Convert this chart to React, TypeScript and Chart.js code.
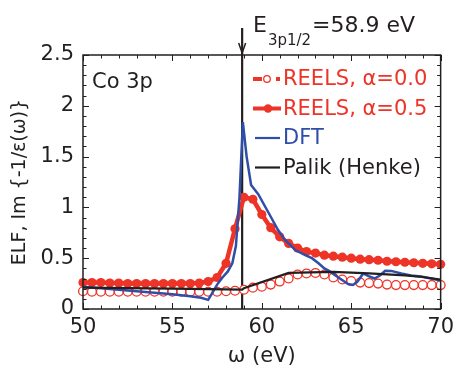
import { useEffect, useRef } from "react";
import { Chart, registerables } from "chart.js";

Chart.register(...registerables);

// Photon energy grid of the REELS-derived spectra (eV)
const reelsEnergy = [
  50, 50.5, 51, 51.5, 52, 52.5, 53, 53.5, 54, 54.5, 55, 55.5, 56, 56.5, 57, 57.5, 58, 58.5, 59, 59.5,
  60, 60.5, 61, 61.5, 62, 62.5, 63, 63.5, 64, 64.5, 65, 65.5, 66, 66.5, 67, 67.5, 68, 68.5, 69, 69.5, 70,
];

// REELS ELF, alpha = 0.0 (open circles)
const reelsAlpha00 = [
  0.175, 0.17, 0.17, 0.17, 0.17, 0.17, 0.17, 0.17, 0.17, 0.17, 0.17, 0.17, 0.17, 0.17, 0.17, 0.17,
  0.175, 0.18, 0.19, 0.21, 0.22, 0.24, 0.27, 0.3, 0.34, 0.35, 0.355, 0.34, 0.31, 0.29, 0.275, 0.26,
  0.255, 0.25, 0.24, 0.235, 0.235, 0.235, 0.235, 0.235, 0.235,
];

// REELS ELF, alpha = 0.5 (filled circles)
const reelsAlpha05 = [
  0.26, 0.26, 0.26, 0.255, 0.255, 0.25, 0.25, 0.25, 0.25, 0.25, 0.25, 0.25, 0.25, 0.255, 0.27, 0.31,
  0.45, 0.79, 1.1, 1.08, 0.93, 0.8, 0.71, 0.645, 0.6, 0.565, 0.55, 0.53, 0.52, 0.51, 0.5, 0.49, 0.485,
  0.48, 0.47, 0.465, 0.46, 0.455, 0.45, 0.445, 0.44,
];

// DFT loss function
const dftEnergy = [
  50, 51, 52, 53, 54, 55, 56, 56.6, 57.0, 57.2, 57.5, 57.8, 58.1, 58.35, 58.55, 58.75, 58.94, 59.15,
  59.4, 59.8, 60.4, 60.9, 61.3, 61.87, 62.43, 62.8, 63.17, 63.5, 63.8, 64.28, 64.83, 65.1, 65.35,
  65.67, 65.94, 66.3, 66.6, 66.9, 67.24, 67.8, 68.35, 68.9, 69.46, 70,
];
const dftElf = [
  0.22, 0.205, 0.19, 0.175, 0.16, 0.145, 0.125, 0.11, 0.09, 0.15, 0.24, 0.31, 0.37, 0.45, 0.62, 1.1,
  1.84, 1.5, 1.22, 1.13, 0.94, 0.78, 0.68, 0.58, 0.53, 0.5, 0.45, 0.4, 0.37, 0.31, 0.246, 0.236, 0.27,
  0.35, 0.325, 0.3, 0.33, 0.377, 0.375, 0.35, 0.33, 0.32, 0.3, 0.28,
];

// Optical data (Palik / Henke tables)
const palikEnergy = [50, 55, 58.9, 59.0, 61.5, 64, 66, 68, 69, 70];
const palikElf = [0.21, 0.2, 0.19, 0.205, 0.355, 0.365, 0.35, 0.33, 0.315, 0.29];

const seriesLabels = ["REELS, α=0.0", "REELS, α=0.5", "DFT", "Palik (Henke)"];
const xTickValues = [50, 55, 60, 65, 70];
const yTickValues = [0, 0.5, 1, 1.5, 2, 2.5];
const EDGE_ENERGY = 58.9;

const FONT = '"DejaVu Sans", "Liberation Sans", sans-serif';
const INK = "#231f20";
const RED = "#ee3327";
const BLUE = "#2f4ea8";

const pairs = (xs: number[], ys: number[]) => xs.map((x, i) => ({ x, y: ys[i] }));

const decorations = {
  id: "decorations",
  beforeDatasetsDraw(chart: any) {
    const { ctx, chartArea, scales } = chart;
    const px = scales.x.getPixelForValue(EDGE_ENERGY);
    ctx.save();
    ctx.strokeStyle = INK;
    ctx.lineWidth = 2.2;
    ctx.beginPath();
    ctx.moveTo(px, 28);
    ctx.lineTo(px, chartArea.bottom);
    ctx.stroke();
    ctx.lineWidth = 1.5;
    ctx.beginPath();
    ctx.moveTo(px - 3.5, 43);
    ctx.lineTo(px, 53);
    ctx.lineTo(px + 3.5, 43);
    ctx.stroke();
    ctx.restore();
  },
  afterDraw(chart: any) {
    const { ctx, chartArea, scales } = chart;
    const { left, right, top, bottom } = chartArea;
    const xs = scales.x;
    const ys = scales.y;
    ctx.save();

    // frame
    ctx.strokeStyle = INK;
    ctx.lineWidth = 1.5;
    ctx.strokeRect(left, top, right - left, bottom - top);

    // inward ticks on all four sides
    ctx.lineWidth = 1;
    ctx.beginPath();
    for (let v = 50; v <= 70; v += 1) {
      const p = Math.round(xs.getPixelForValue(v)) + 0.5;
      const len = v % 5 === 0 ? 6 : 3.5;
      ctx.moveTo(p, bottom);
      ctx.lineTo(p, bottom - len);
      ctx.moveTo(p, top);
      ctx.lineTo(p, top + len);
    }
    for (let k = 0; k <= 25; k++) {
      const p = Math.round(ys.getPixelForValue(k / 10)) + 0.5;
      const len = k % 5 === 0 ? 6 : 3.5;
      ctx.moveTo(left, p);
      ctx.lineTo(left + len, p);
      ctx.moveTo(right, p);
      ctx.lineTo(right - len, p);
    }
    ctx.stroke();

    // axis titles
    ctx.fillStyle = INK;
    ctx.font = `21px ${FONT}`;
    ctx.textAlign = "center";
    ctx.textBaseline = "middle";
    ctx.fillText("ω (eV)", (left + right) / 2, 357);
    ctx.save();
    ctx.translate(20, (top + bottom) / 2);
    ctx.rotate(-Math.PI / 2);
    ctx.font = `19px ${FONT}`;
    ctx.fillText("ELF, Im {-1/ε(ω)}", 0, 0);
    ctx.restore();

    // panel label
    ctx.textAlign = "left";
    ctx.textBaseline = "alphabetic";
    ctx.font = `21px ${FONT}`;
    ctx.fillText("Co 3p", 92, 88);

    // edge annotation
    ctx.font = `22px ${FONT}`;
    const ex = 253;
    ctx.fillText("E", ex, 32);
    const ew = ctx.measureText("E").width;
    ctx.font = `15px ${FONT}`;
    ctx.fillText("3p1/2", ex + ew + 1, 45);
    const sw = ctx.measureText("3p1/2").width;
    ctx.font = `22px ${FONT}`;
    ctx.fillText("=58.9 eV", ex + ew + sw + 2, 32);

    // legend
    const colors = [RED, RED, BLUE, INK];
    ctx.textBaseline = "middle";
    ctx.font = `21px ${FONT}`;
    colors.forEach((c, i) => {
      const cy = 79 + i * 29.5;
      ctx.strokeStyle = c;
      ctx.fillStyle = c;
      if (i === 0) {
        ctx.lineWidth = 4;
        ctx.beginPath();
        ctx.moveTo(253, cy);
        ctx.lineTo(262, cy);
        ctx.moveTo(276, cy);
        ctx.lineTo(280, cy);
        ctx.stroke();
        ctx.lineWidth = 1.3;
        ctx.fillStyle = "#fff";
        ctx.beginPath();
        ctx.arc(267, cy, 3.3, 0, Math.PI * 2);
        ctx.fill();
        ctx.stroke();
        ctx.fillStyle = c;
      } else if (i === 1) {
        ctx.lineWidth = 4;
        ctx.beginPath();
        ctx.moveTo(253, cy);
        ctx.lineTo(281, cy);
        ctx.stroke();
        ctx.beginPath();
        ctx.arc(268, cy, 4.2, 0, Math.PI * 2);
        ctx.fill();
      } else {
        ctx.lineWidth = 2.2;
        ctx.beginPath();
        ctx.moveTo(255, cy);
        ctx.lineTo(280, cy);
        ctx.stroke();
      }
      ctx.fillText(seriesLabels[i], 283, cy + 1);
    });

    ctx.restore();
  },
};

export default function App() {
  const canvasRef = useRef<HTMLCanvasElement>(null);

  useEffect(() => {
    const canvas = canvasRef.current;
    if (!canvas) return;
    const chart = new Chart(canvas, {
      type: "scatter",
      data: {
        datasets: [
          {
            label: seriesLabels[3],
            data: pairs(palikEnergy, palikElf),
            showLine: true,
            borderColor: INK,
            borderWidth: 2.2,
            pointRadius: 0,
            clip: false as any,
          },
          {
            label: seriesLabels[2],
            data: pairs(dftEnergy, dftElf),
            showLine: true,
            borderColor: BLUE,
            borderWidth: 2.5,
            pointRadius: 0,
            clip: false as any,
          },
          {
            label: seriesLabels[0],
            data: pairs(reelsEnergy, reelsAlpha00),
            showLine: false,
            borderColor: RED,
            backgroundColor: "#ffffff",
            pointRadius: 4.4,
            pointBorderWidth: 1.3,
            clip: false as any,
          },
          {
            label: seriesLabels[1],
            data: pairs(reelsEnergy, reelsAlpha05),
            showLine: true,
            borderColor: RED,
            borderWidth: 4.5,
            backgroundColor: RED,
            pointBackgroundColor: RED,
            pointBorderColor: RED,
            pointRadius: 4.6,
            pointBorderWidth: 0,
            clip: false as any,
          },
        ],
      },
      options: {
        responsive: false,
        animation: false,
        events: [],
        layout: { padding: { top: 55, right: 17, left: 0, bottom: 0 } },
        plugins: { legend: { display: false }, tooltip: { enabled: false } },
        scales: {
          x: {
            type: "linear",
            min: 50,
            max: 70,
            afterBuildTicks: (s: any) => {
              s.ticks = xTickValues.map((value) => ({ value }));
            },
            afterFit: (s: any) => {
              s.height = 63;
            },
            grid: { display: false, drawTicks: false },
            border: { display: false },
            ticks: {
              color: INK,
              padding: 6,
              maxRotation: 0,
              font: { family: FONT, size: 21 },
            },
          },
          y: {
            type: "linear",
            min: 0,
            max: 2.5,
            afterBuildTicks: (s: any) => {
              s.ticks = yTickValues.map((value) => ({ value }));
            },
            afterFit: (s: any) => {
              s.width = 83;
            },
            grid: { display: false, drawTicks: false },
            border: { display: false },
            ticks: {
              color: INK,
              padding: 9,
              font: { family: FONT, size: 21 },
              callback: (v: any) => String(v),
            },
          },
        },
      },
      plugins: [decorations],
    });
    return () => chart.destroy();
  }, []);

  return (
    <div style={{ position: "fixed", left: 0, top: 0, width: 460, height: 372, background: "#fff" }}>
      <canvas ref={canvasRef} width={460} height={372} style={{ display: "block" }} />
    </div>
  );
}
